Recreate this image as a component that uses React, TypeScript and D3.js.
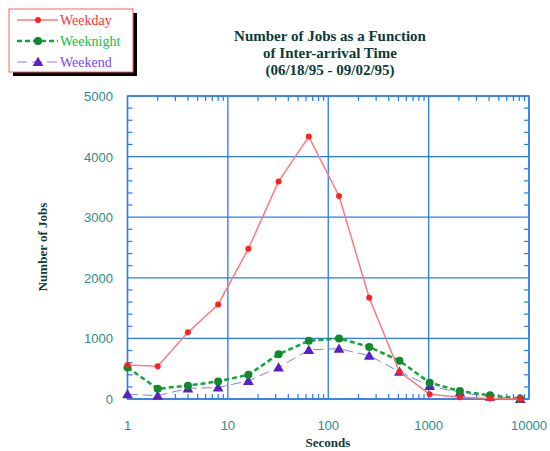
import React from "react";
import * as d3 from "d3";

// seconds between arrivals (powers of two)
const seconds = [1, 2, 4, 8, 16, 32, 64, 128, 256, 512, 1024, 2048, 4096, 8192];
const weekday = [560, 540, 1100, 1560, 2480, 3590, 4330, 3350, 1670, 450, 80, 30, 10, 0];
const weeknight = [520, 170, 220, 290, 400, 740, 960, 1000, 860, 630, 270, 130, 60, 5];
const weekend = [80, 55, 175, 190, 300, 520, 810, 830, 715, 450, 215, 105, 40, 0];

const xTicks = [1, 10, 100, 1000, 10000];
const yTicks = [0, 1000, 2000, 3000, 4000, 5000];
const titleLines = ["Number of Jobs as a Function", "of Inter-arrival Time", "(06/18/95 - 09/02/95)"];

const series = [
  { name: "Weekday", values: weekday, line: "#ff7a7a", mark: "#ff2020", text: "#ff3030", dash: "", width: 1.5, shape: "dot" },
  { name: "Weeknight", values: weeknight, line: "#10a838", mark: "#0e8a2c", text: "#10c040", dash: "5,3", width: 2.5, shape: "circle" },
  { name: "Weekend", values: weekend, line: "#8a7cf0", mark: "#5a20c8", text: "#7048ff", dash: "10,5", width: 1, shape: "tri" },
];

const GRID = "#2a7af5";
const LABEL = "#2f8a8a";
const DARK = "#0b3a3a";

function Marker({ shape, x, y, color }: { shape: string; x: number; y: number; color: string }) {
  if (shape === "tri") {
    const p = d3.symbol(d3.symbolTriangle, 50)() as string;
    return <path d={p} transform={`translate(${x},${y + 1})`} fill={color} />;
  }
  return <circle cx={x} cy={y} r={shape === "circle" ? 4 : 3} fill={color} />;
}

export default function App() {
  const width = 550;
  const height = 451;
  const x = d3.scaleLog().domain([1, 10000]).range([127.5, 529]);
  const y = d3.scaleLinear().domain([0, 5000]).range([399, 96]);

  const minorX: number[] = [];
  for (let d = 1; d < 10000; d *= 10) for (let k = 2; k <= 9; k++) minorX.push(d * k);
  const minorY = d3.range(200, 5000, 200).filter((v) => v % 1000 !== 0);

  const line = (vals: number[]) =>
    d3
      .line<number>()
      .x((_, i) => x(seconds[i]))
      .y((v) => y(v))(vals) as string;

  const [x0, x1] = x.range();
  const [y0, y1] = y.range();

  return (
    <svg width={width} height={height} style={{ position: "absolute", left: 0, top: 0, background: "#fff" }}>
      {/* grid */}
      {xTicks.map((t) => (
        <line key={"gx" + t} x1={x(t)} x2={x(t)} y1={y1} y2={y0} stroke={GRID} strokeWidth={1.3} />
      ))}
      {yTicks.map((t) => (
        <line key={"gy" + t} x1={x0} x2={x1} y1={y(t)} y2={y(t)} stroke={GRID} strokeWidth={1.3} />
      ))}
      {minorX.map((t) => (
        <g key={"mx" + t}>
          <line x1={x(t)} x2={x(t)} y1={y0} y2={y0 - 5} stroke={GRID} strokeWidth={1.2} />
          <line x1={x(t)} x2={x(t)} y1={y1} y2={y1 + 5} stroke={GRID} strokeWidth={1.2} />
        </g>
      ))}
      {minorY.map((t) => (
        <g key={"my" + t}>
          <line x1={x0} x2={x0 + 5} y1={y(t)} y2={y(t)} stroke={GRID} strokeWidth={1.2} />
          <line x1={x1} x2={x1 - 5} y1={y(t)} y2={y(t)} stroke={GRID} strokeWidth={1.2} />
        </g>
      ))}
      <rect x={x0} y={y1} width={x1 - x0} height={y0 - y1} fill="none" stroke={GRID} strokeWidth={1.4} />

      {/* series */}
      {series
        .slice()
        .reverse()
        .map((s) => (
          <g key={s.name}>
            <path d={line(s.values)} fill="none" stroke={s.line} strokeWidth={s.width} strokeDasharray={s.dash} />
            {s.values.map((v, i) => (
              <Marker key={i} shape={s.shape} x={x(seconds[i])} y={y(v)} color={s.mark} />
            ))}
          </g>
        ))}

      {/* tick labels */}
      {yTicks.map((t) => (
        <text key={"ly" + t} x={113} y={y(t) + 5} textAnchor="end" fontFamily="Liberation Sans, sans-serif" fontSize={13} fill={LABEL}>
          {t}
        </text>
      ))}
      {xTicks.map((t) => (
        <text key={"lx" + t} x={x(t)} y={430} textAnchor="middle" fontFamily="Liberation Sans, sans-serif" fontSize={13} fill={LABEL}>
          {t}
        </text>
      ))}

      {/* axis titles */}
      <text x={328} y={447} textAnchor="middle" fontFamily="Liberation Serif, serif" fontWeight="bold" fontSize={13} fill={DARK}>
        Seconds
      </text>
      <text transform="translate(47,247) rotate(-90)" textAnchor="middle" fontFamily="Liberation Serif, serif" fontWeight="bold" fontSize={13} fill={DARK}>
        Number of Jobs
      </text>

      {/* title */}
      {titleLines.map((l, i) => (
        <text key={i} x={330} y={41 + i * 17} textAnchor="middle" fontFamily="Liberation Serif, serif" fontWeight="bold" fontSize={15} fill={DARK}>
          {l}
        </text>
      ))}

      {/* legend */}
      <rect x={13} y={13} width={124} height={63} fill="#000" />
      <rect x={9} y={9} width={124} height={63} fill="#fff" stroke="#ff6060" strokeWidth={1} />
      {series.map((s, i) => {
        const ly = 20 + i * 21;
        return (
          <g key={"lg" + s.name}>
            <line x1={17} x2={58} y1={ly} y2={ly} stroke={s.line} strokeWidth={s.width} strokeDasharray={s.dash} />
            <Marker shape={s.shape} x={38} y={ly} color={s.mark} />
            <text x={60} y={ly + 5} fontFamily="Liberation Serif, serif" fontSize={14} fill={s.text}>
              {s.name}
            </text>
          </g>
        );
      })}
    </svg>
  );
}
